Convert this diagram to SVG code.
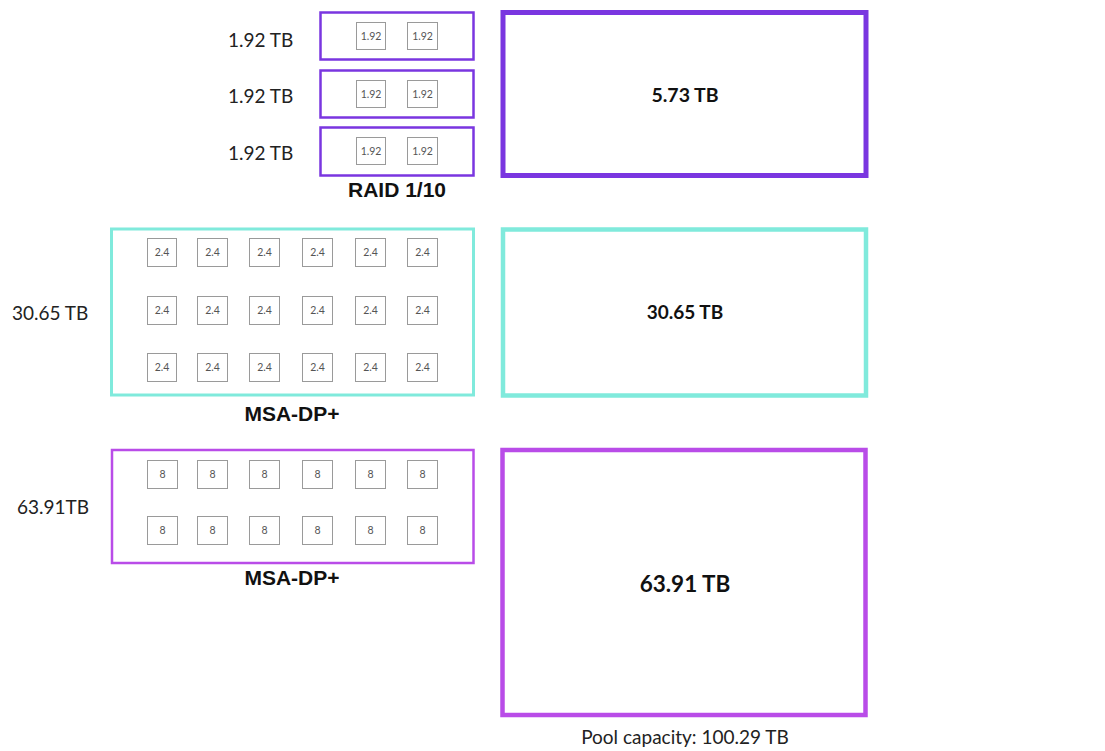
<svg xmlns="http://www.w3.org/2000/svg" width="1105" height="751" viewBox="0 0 1105 751">
<style>
.lbl{font-family:Lato,"Open Sans",sans-serif;font-size:19px;fill:#222}
.big{font-family:Lato,"Open Sans",sans-serif;font-weight:bold;fill:#111;text-anchor:middle}
.cap{font-family:"Liberation Sans",Arial,sans-serif;font-weight:bold;font-size:21px;fill:#111;text-anchor:middle}
.disk{fill:#fff;stroke:#9a9a9a;stroke-width:1}
.dt{font-family:Lato,"Open Sans",sans-serif;font-size:10.5px;fill:#555;text-anchor:middle}
.p1{fill:none;stroke:#7a36e0}
.tl{fill:none;stroke:#80eadc}
.p3{fill:none;stroke:#b94ce8}
</style>
<rect width="1105" height="751" fill="#fff"/>
<g id="raid">
<text class="lbl" x="228" y="47">1.92 TB</text>
<text class="lbl" x="228" y="103">1.92 TB</text>
<text class="lbl" x="228" y="160">1.92 TB</text>
<rect class="p1" x="320.5" y="12.5" width="153" height="47" stroke-width="2.5"/>
<rect class="p1" x="320.5" y="70.5" width="153" height="47" stroke-width="2.5"/>
<rect class="p1" x="320.5" y="127.5" width="153" height="48" stroke-width="2.5"/>
<rect class="disk" x="356.5" y="22.5" width="29" height="27"/><text class="dt" x="371" y="40">1.92</text>
<rect class="disk" x="407.5" y="22.5" width="30" height="27"/><text class="dt" x="422.5" y="40">1.92</text>
<rect class="disk" x="356.5" y="80.5" width="29" height="27"/><text class="dt" x="371" y="98">1.92</text>
<rect class="disk" x="407.5" y="80.5" width="30" height="27"/><text class="dt" x="422.5" y="98">1.92</text>
<rect class="disk" x="356.5" y="137.5" width="29" height="27"/><text class="dt" x="371" y="155">1.92</text>
<rect class="disk" x="407.5" y="137.5" width="30" height="27"/><text class="dt" x="422.5" y="155">1.92</text>
<text class="cap" x="397" y="197">RAID 1/10</text>
</g>
<g id="raid-total">
<rect class="p1" x="503" y="12.5" width="363" height="163" stroke-width="5"/>
<text class="big" x="685" y="102" font-size="19.5">5.73 TB</text>
</g>
<g id="msa1">
<text class="lbl" x="12" y="320" font-size="19.5">30.65 TB</text>
<rect class="tl" x="111.5" y="229" width="362" height="166" stroke-width="3"/>
<g id="msa1-disks">
<rect class="disk" x="147.5" y="238.5" width="29" height="28"/><text class="dt" x="162" y="256">2.4</text>
<rect class="disk" x="197.5" y="238.5" width="30" height="28"/><text class="dt" x="212.5" y="256">2.4</text>
<rect class="disk" x="249.5" y="238.5" width="30" height="28"/><text class="dt" x="264.5" y="256">2.4</text>
<rect class="disk" x="302.5" y="238.5" width="30" height="28"/><text class="dt" x="317.5" y="256">2.4</text>
<rect class="disk" x="355.5" y="238.5" width="30" height="28"/><text class="dt" x="370.5" y="256">2.4</text>
<rect class="disk" x="407.5" y="238.5" width="30" height="28"/><text class="dt" x="422.5" y="256">2.4</text>
<rect class="disk" x="147.5" y="296.5" width="29" height="28"/><text class="dt" x="162" y="314">2.4</text>
<rect class="disk" x="197.5" y="296.5" width="30" height="28"/><text class="dt" x="212.5" y="314">2.4</text>
<rect class="disk" x="249.5" y="296.5" width="30" height="28"/><text class="dt" x="264.5" y="314">2.4</text>
<rect class="disk" x="302.5" y="296.5" width="30" height="28"/><text class="dt" x="317.5" y="314">2.4</text>
<rect class="disk" x="355.5" y="296.5" width="30" height="28"/><text class="dt" x="370.5" y="314">2.4</text>
<rect class="disk" x="407.5" y="296.5" width="30" height="28"/><text class="dt" x="422.5" y="314">2.4</text>
<rect class="disk" x="147.5" y="353.5" width="29" height="28"/><text class="dt" x="162" y="371">2.4</text>
<rect class="disk" x="197.5" y="353.5" width="30" height="28"/><text class="dt" x="212.5" y="371">2.4</text>
<rect class="disk" x="249.5" y="353.5" width="30" height="28"/><text class="dt" x="264.5" y="371">2.4</text>
<rect class="disk" x="302.5" y="353.5" width="30" height="28"/><text class="dt" x="317.5" y="371">2.4</text>
<rect class="disk" x="355.5" y="353.5" width="30" height="28"/><text class="dt" x="370.5" y="371">2.4</text>
<rect class="disk" x="407.5" y="353.5" width="30" height="28"/><text class="dt" x="422.5" y="371">2.4</text>
</g>
<text class="cap" x="292" y="421">MSA-DP+</text>
</g>
<g id="msa1-total">
<rect class="tl" x="503" y="229.5" width="363" height="166" stroke-width="4.5"/>
<text class="big" x="685" y="319" font-size="19">30.65 TB</text>
</g>
<g id="msa2">
<text class="lbl" x="17" y="514">63.91TB</text>
<rect class="p3" x="112" y="450" width="361.5" height="113" stroke-width="2.5"/>
<g id="msa2-disks">
<rect class="disk" x="147.5" y="460.5" width="30" height="28"/><text class="dt" x="162.5" y="478">8</text>
<rect class="disk" x="197.5" y="460.5" width="30" height="28"/><text class="dt" x="212.5" y="478">8</text>
<rect class="disk" x="249.5" y="460.5" width="30" height="28"/><text class="dt" x="264.5" y="478">8</text>
<rect class="disk" x="302.5" y="460.5" width="30" height="28"/><text class="dt" x="317.5" y="478">8</text>
<rect class="disk" x="355.5" y="460.5" width="30" height="28"/><text class="dt" x="370.5" y="478">8</text>
<rect class="disk" x="407.5" y="460.5" width="30" height="28"/><text class="dt" x="422.5" y="478">8</text>
<rect class="disk" x="147.5" y="516.5" width="30" height="28"/><text class="dt" x="162.5" y="534">8</text>
<rect class="disk" x="197.5" y="516.5" width="30" height="28"/><text class="dt" x="212.5" y="534">8</text>
<rect class="disk" x="249.5" y="516.5" width="30" height="28"/><text class="dt" x="264.5" y="534">8</text>
<rect class="disk" x="302.5" y="516.5" width="30" height="28"/><text class="dt" x="317.5" y="534">8</text>
<rect class="disk" x="355.5" y="516.5" width="30" height="28"/><text class="dt" x="370.5" y="534">8</text>
<rect class="disk" x="407.5" y="516.5" width="30" height="28"/><text class="dt" x="422.5" y="534">8</text>
</g>
<text class="cap" x="292" y="585">MSA-DP+</text>
</g>
<g id="msa2-total">
<rect class="p3" x="502.5" y="450" width="363" height="265" stroke-width="4.5"/>
<text class="big" x="685" y="592" font-size="22.5">63.91 TB</text>
</g>
<text class="lbl" x="685" y="744" text-anchor="middle">Pool capacity: 100.29 TB</text>
</svg>
